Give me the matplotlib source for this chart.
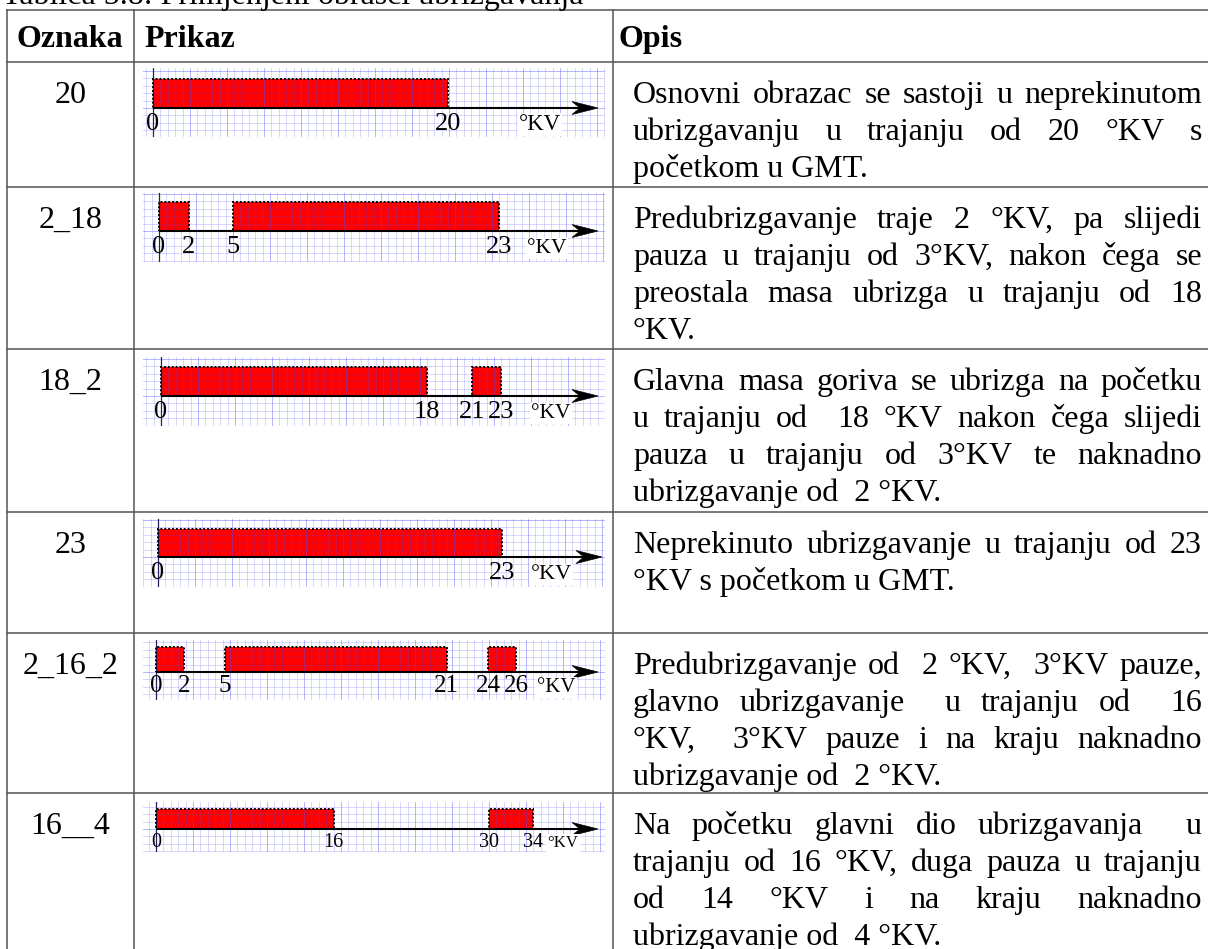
import matplotlib
matplotlib.use('Agg')
import matplotlib.pyplot as plt
from matplotlib.patches import Rectangle, Polygon
import numpy as np

# table content
caption = 'Tablica 5.8: Primjenjeni obrasci ubrizgavanja'
headers = ['Oznaka', 'Prikaz', 'Opis']
labels = ['20', '2_18', '18_2', '23', '2_16_2', '16__4']
unit = '°KV'

# injection segments (start, end) in °KV and the numbers written under each axis
segments = [
    [(0, 20)],
    [(0, 2), (5, 23)],
    [(0, 18), (21, 23)],
    [(0, 23)],
    [(0, 2), (5, 21), (24, 26)],
    [(0, 16), (30, 34)],
]
ticks = [
    [0, 20],
    [0, 2, 5, 23],
    [0, 18, 21, 23],
    [0, 23],
    [0, 2, 5, 21, 24, 26],
    [0, 16, 30, 34],
]

descriptions = [
    ['Osnovni obrazac se sastoji u neprekinutom',
     'ubrizgavanju u trajanju od 20 °KV s',
     'početkom u GMT.'],
    ['Predubrizgavanje traje 2 °KV, pa slijedi',
     'pauza u trajanju od 3°KV, nakon čega se',
     'preostala masa ubrizga u trajanju od 18',
     '°KV.'],
    ['Glavna masa goriva se ubrizga na početku',
     'u trajanju od  18 °KV nakon čega slijedi',
     'pauza u trajanju od 3°KV te naknadno',
     'ubrizgavanje od  2 °KV.'],
    ['Neprekinuto ubrizgavanje u trajanju od 23',
     '°KV s početkom u GMT.'],
    ['Predubrizgavanje od  2 °KV,  3°KV pauze,',
     'glavno ubrizgavanje  u trajanju od  16',
     '°KV,  3°KV pauze i na kraju naknadno',
     'ubrizgavanje od  2 °KV.'],
    ['Na početku glavni dio ubrizgavanja  u',
     'trajanju od 16 °KV, duga pauza u trajanju',
     'od 14 °KV i na kraju naknadno',
     'ubrizgavanje od  4 °KV.'],
]

# layout in pixels
W, H = 1208, 949
SERIF = 'Liberation Serif'
table_top = 10
row_top = [62, 187, 349, 512, 633, 793]
col_x = [7, 134, 613]
txt_x0, txt_x1 = 633, 1202
line_gap = 37
first_base = 41

# per diagram: grid box, origin px, px per °KV, axis y, bar height, arrow end,
# number font, unit font, unit x, number baseline offset
diag = [
    dict(gx=(143, 605), gy=(68, 137), ox=153, s=14.75, ay=108, bh=29, ae=598, fn=19, fk=16.5, kx=540, nb=22),
    dict(gx=(143, 605), gy=(193, 262), ox=159, s=14.8, ay=231, bh=29, ae=598, fn=19, fk=15.5, kx=547, nb=22),
    dict(gx=(143, 605), gy=(357, 426), ox=161, s=14.8, ay=396, bh=29, ae=598, fn=19, fk=15.5, kx=551, nb=22),
    dict(gx=(143, 605), gy=(519, 587), ox=158, s=14.96, ay=557, bh=28, ae=602, fn=19, fk=16, kx=551, nb=22),
    dict(gx=(143, 605), gy=(640, 700), ox=156, s=13.85, ay=672, bh=25, ae=598, fn=18, fk=15, kx=556, nb=20),
    dict(gx=(143, 605), gy=(802, 852), ox=156, s=11.1, ay=829, bh=20, ae=598, fn=14.5, fk=12, kx=563, nb=18),
]
cell = 7.4

fig = plt.figure(figsize=(W / 100, H / 100), dpi=100)
base = fig.add_axes([0, 0, 1, 1])
base.set_xlim(0, W)
base.set_ylim(H, 0)
base.axis('off')
renderer = fig.canvas.get_renderer()

txt = dict(fontfamily=SERIF, fontsize=23, va='baseline')

# caption (cut at the top)
base.text(2, 4, caption, ha='left', **txt)

# table lines
lc = '#555555'
for y in [table_top] + row_top:
    base.plot([col_x[0], W], [y, y], color=lc, lw=1.1)
for x in col_x:
    base.plot([x, x], [table_top, H], color=lc, lw=1.1)

# header
base.text(col_x[0] + 9, 47, headers[0], fontweight='bold', ha='left', **txt)
base.text(col_x[1] + 10, 47, headers[1], fontweight='bold', ha='left', **txt)
base.text(col_x[2] + 6, 47, headers[2], fontweight='bold', ha='left', **txt)


def justified(line, x0, x1, y):
    words = line.split(' ')
    ts = [base.text(0, y, w, ha='left', **txt) for w in words]
    widths = [t.get_window_extent(renderer).width for t in ts]
    gap = (x1 - x0 - sum(widths)) / (len(words) - 1)
    x = x0
    for t, w in zip(ts, widths):
        t.set_x(x)
        x += w + gap


for i, lines in enumerate(descriptions):
    y0 = row_top[i] + first_base
    base.text((col_x[0] + col_x[1]) / 2, y0, labels[i], ha='center', **txt)
    for j, line in enumerate(lines):
        y = y0 + j * line_gap
        if j < len(lines) - 1:
            justified(line, txt_x0, txt_x1, y)
        else:
            base.text(txt_x0, y, line, ha='left', **txt)

# diagrams
for i, d in enumerate(diag):
    gx0, gx1 = d['gx']
    gy0, gy1 = d['gy']
    ox, s, ay = d['ox'], d['s'], d['ay']
    ax = fig.add_axes([gx0 / W, 1 - gy1 / H, (gx1 - gx0) / W, (gy1 - gy0) / H])
    ax.set_xlim((gx0 - ox) / s, (gx1 - ox) / s)
    ax.set_ylim(-(gy1 - ay), ay - gy0)
    ax.axis('off')

    # graph paper
    k0 = int(np.floor((gx0 - ox) / cell))
    k1 = int(np.ceil((gx1 - ox) / cell))
    for k in range(k0, k1 + 1):
        major = k % 5 == 0
        ax.axvline(k * cell / s, color='#5050ff', lw=0.7, alpha=0.42 if major else 0.22, zorder=2)
    m0 = int(np.floor(-(gy1 - ay) / cell))
    m1 = int(np.ceil((ay - gy0) / cell))
    for m in range(m0, m1 + 1):
        ax.axhline(m * cell, color='#5050ff', lw=0.7, alpha=0.42 if m % 5 == 0 else 0.22, zorder=2)

    # injection bars
    for a, b in segments[i]:
        ax.add_patch(Rectangle((a, 0), b - a, d['bh'], facecolor='#ff0000', edgecolor='none', zorder=1))
        ax.add_patch(Rectangle((a, 0), b - a, d['bh'], facecolor='none', edgecolor='black',
                               lw=1.4, linestyle=(0, (1, 1)), zorder=3))

    ax.axvline(0, color='#202060', lw=0.9, zorder=2.5)

    # axis with a stealth arrow head (y units are pixels)
    xe = (d['ae'] - ox) / s
    ax.plot([0, xe - 18 / s], [0, 0], color='black', lw=1.5, zorder=4, solid_capstyle='butt')
    ax.add_patch(Polygon([(xe, 0), (xe - 26 / s, 6.5), (xe - 18 / s, 0), (xe - 26 / s, -6.5)],
                         closed=True, facecolor='black', edgecolor='black', lw=0.5, zorder=4))

    for t in ticks[i]:
        ax.text(t, -d['nb'], str(t), ha='center', va='baseline', fontfamily=SERIF,
                fontsize=d['fn'], zorder=4, clip_on=False)
    ax.text((d['kx'] - ox) / s, -d['nb'], unit, ha='center', va='baseline', fontfamily=SERIF,
            fontsize=d['fk'], zorder=4, clip_on=False,
            bbox=dict(facecolor='white', edgecolor='none', pad=1))

fig.savefig('out.png', dpi=100)
